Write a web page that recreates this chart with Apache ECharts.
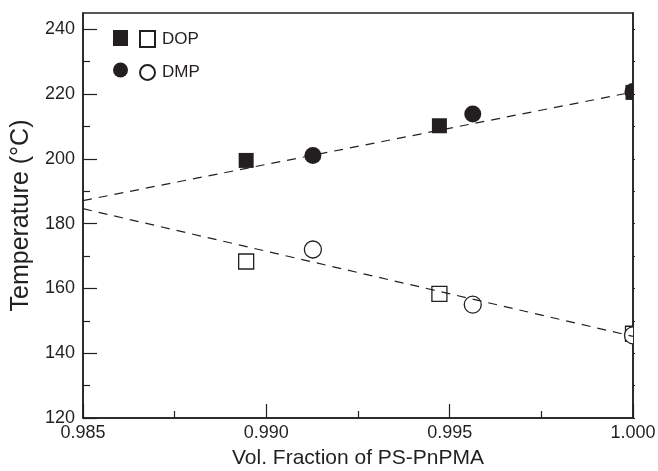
<!DOCTYPE html>
<html>
<head>
<meta charset="utf-8">
<script src="https://cdn.jsdelivr.net/npm/echarts@6/dist/echarts.min.js"></script>
<style>
  html, body { margin: 0; padding: 0; background: #fff; }
  #chart { width: 658px; height: 471px; }
</style>
</head>
<body>
<div id="chart"></div>
<script>
"use strict";

// Measured points (vol. fraction, temperature in °C)
const dopFilled = [[0.98945, 199.5], [0.99472, 210.2], [1.0, 220.5]];
const dmpFilled = [[0.99127, 201.0], [0.99563, 213.8], [1.0, 220.8]];
const dopOpen = [[0.98945, 168.3], [0.99472, 158.3], [1.0, 146.0]];
const dmpOpen = [[0.99127, 172.0], [0.99563, 155.0], [1.0, 145.5]];

// Dashed guide lines (end points)
const upperFit = [[0.985, 187.1], [1.0, 220.6]];
const lowerFit = [[0.985, 184.6], [1.0, 145.2]];

const yLabels = [120, 140, 160, 180, 200, 220, 240];
const yMinor = [130, 150, 170, 190, 210, 230];
const yAll = [120, 130, 140, 150, 160, 170, 180, 190, 200, 210, 220, 230, 240];

const INK = "#231f20";
const FONT = "Liberation Sans, Arial, sans-serif";

const chart = echarts.init(document.getElementById("chart"), null, { renderer: "canvas" });

// Markers drawn as a custom series so the ones sitting on x = 1.000 get
// clipped by the plot frame, like in the original figure.
function markerSeries(name, data, shape, size, filled) {
  return {
    name,
    type: "custom",
    clip: true,
    data,
    itemStyle: filled
      ? { color: INK, opacity: 1 }
      : { color: "#fff", borderColor: INK, borderWidth: 1.3, opacity: 1 },
    encode: { x: 0, y: 1 },
    renderItem: (params, api) => {
      const [cx, cy] = api.coord([api.value(0), api.value(1)]);
      const style = filled
        ? { fill: INK }
        : { fill: "#fff", stroke: INK, lineWidth: 1.3 };
      if (shape === "rect") {
        return { type: "rect", shape: { x: cx - size / 2, y: cy - size / 2, width: size, height: size }, style };
      }
      return { type: "circle", shape: { cx, cy, r: size / 2 }, style };
    },
  };
}

chart.setOption({
  animation: false,
  backgroundColor: "#fff",
  textStyle: { fontFamily: FONT, color: INK },
  grid: {
    left: 83, right: 25, top: 13, bottom: 53,
    outerBoundsMode: "none",
    show: true, borderColor: INK, borderWidth: 1.5,
  },
  legend: [
    {
      data: [{ name: "DOP", icon: "rect" }, { name: "DMP", icon: "circle" }],
      orient: "vertical",
      left: 108, top: 25,
      itemWidth: 15, itemHeight: 16, itemGap: 16,
      formatter: () => "",
      selectedMode: false,
    },
    {
      data: [{ name: "DOP open", icon: "rect" }, { name: "DMP open", icon: "circle" }],
      orient: "vertical",
      left: 134, top: 25,
      itemWidth: 15, itemHeight: 16, itemGap: 16,
      formatter: (name) => name.split(" ")[0],
      textStyle: { fontSize: 17, color: INK, padding: [0, 0, 0, 2] },
      selectedMode: false,
    },
  ],
  xAxis: {
    type: "value",
    min: 0.985, max: 1.0, interval: 0.005,
    name: "Vol. Fraction of PS-PnPMA",
    nameLocation: "middle", nameGap: 30,
    nameTextStyle: { fontSize: 21, color: INK },
    axisLine: { lineStyle: { color: INK, width: 1.5 } },
    axisTick: { inside: true, length: 14, lineStyle: { color: INK, width: 1.2 } },
    minorTick: { show: true, splitNumber: 2, length: 7, lineStyle: { color: INK, width: 1.2 } },
    axisLabel: { fontSize: 18, color: INK, margin: 6, formatter: (v) => v.toFixed(3) },
    splitLine: { show: false },
  },
  yAxis: [
    {
      type: "value",
      min: 120, max: 245,
      name: "Temperature (°C)",
      nameLocation: "middle", nameGap: 48,
      nameTextStyle: { fontSize: 25, color: INK },
      axisLine: { show: true, lineStyle: { color: INK, width: 1.5 } },
      axisTick: { inside: true, length: 14, customValues: yLabels, lineStyle: { color: INK, width: 1.2 } },
      axisLabel: { fontSize: 18, color: INK, margin: 8, verticalAlign: "middle", customValues: yLabels },
      splitLine: { show: false },
    },
    {
      type: "value",
      min: 120, max: 245,
      position: "left",
      axisLine: { show: false },
      axisTick: { inside: true, length: 7, customValues: yMinor, lineStyle: { color: INK, width: 1.2 } },
      axisLabel: { show: false },
      splitLine: { show: false },
    },
    {
      type: "value",
      min: 120, max: 245,
      position: "right",
      axisLine: { show: true, lineStyle: { color: INK, width: 1.5 } },
      axisTick: { inside: false, length: 2, customValues: yAll, lineStyle: { color: INK, width: 1 } },
      axisLabel: { show: false },
      splitLine: { show: false },
    },
  ],
  series: [
    {
      type: "line", data: upperFit, symbol: "none", silent: true,
      lineStyle: { color: INK, width: 1.2, type: [9, 7] },
    },
    {
      type: "line", data: lowerFit, symbol: "none", silent: true,
      lineStyle: { color: INK, width: 1.2, type: [9, 7] },
    },
    markerSeries("DOP", dopFilled, "rect", 15, true),
    markerSeries("DMP", dmpFilled, "circle", 17, true),
    markerSeries("DOP open", dopOpen, "rect", 15, false),
    markerSeries("DMP open", dmpOpen, "circle", 17, false),
  ],
});
</script>
</body>
</html>
